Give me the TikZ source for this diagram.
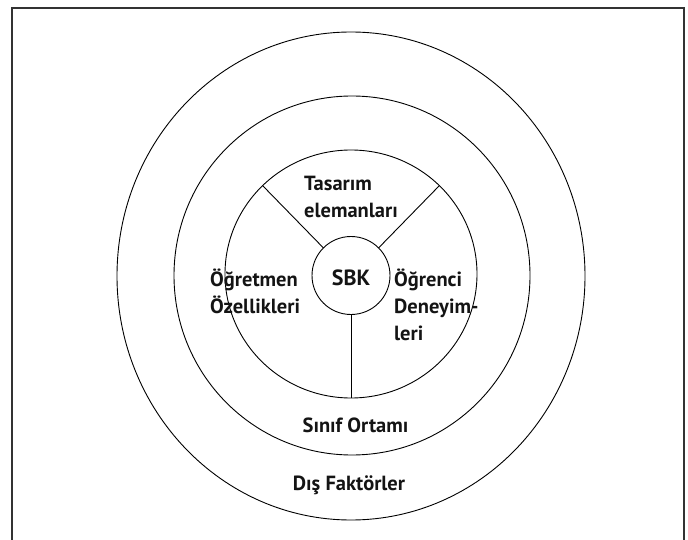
\documentclass[tikz,border=0pt]{standalone}
\usepackage{fontspec}
\setmainfont{PT Sans}
\usetikzlibrary{shapes.geometric}
\begin{document}
\begin{tikzpicture}[x=1pt,y=-1pt,
  ring/.style={draw=black, line width=0.9pt, ellipse, inner sep=0pt, outer sep=0pt},
  spoke/.style={draw=black, line width=0.9pt},
  lbl/.style={font=\bfseries\fontsize{20.5}{27}\selectfont, text=black!92, inner sep=0pt},
  blk/.style={lbl, align=left, anchor=west}
]
\useasboundingbox (0,0) rectangle (688,540);
% open frame (bottom edge runs off the page)
\draw[line width=1.3pt, draw=black!80] (12,540) -- (12,8) -- (684,8) -- (684,540);

% concentric rings
\node[ring, minimum width=468, minimum height=488] (outer) at (351,276) {};
\node[ring, minimum width=356, minimum height=359] (middle) at (352,275.5) {};
\node[ring, minimum width=252, minimum height=248] (inner) at (351,274) {};
\node[ring, circle, minimum size=78] (sbk) at (351,275.5) {};

% spokes dividing the inner ring
\draw[spoke] (sbk.135) -- (inner.135);
\draw[spoke] (sbk.45) -- (inner.45);
\draw[spoke] (sbk.-90) -- (inner.-90);

% labels
\node[lbl, font=\bfseries\fontsize{22}{26}\selectfont] (tsbk) at (351,278) {SBK};
\node[blk] (tasarim) at (304,197) {Tasarım\\elemanları};
\node[blk] (ogretmen) at (210,291) {Öğretmen\\Özellikleri};
\node[blk] (ogrenci) at (394,305) {Öğrenci\\Deneyim-\\leri};
\node[lbl] (sinif) at (355.5,425) {Sınıf Ortamı};
\node[lbl] (dis) at (349,485) {Dış Faktörler};
\end{tikzpicture}
\end{document}
